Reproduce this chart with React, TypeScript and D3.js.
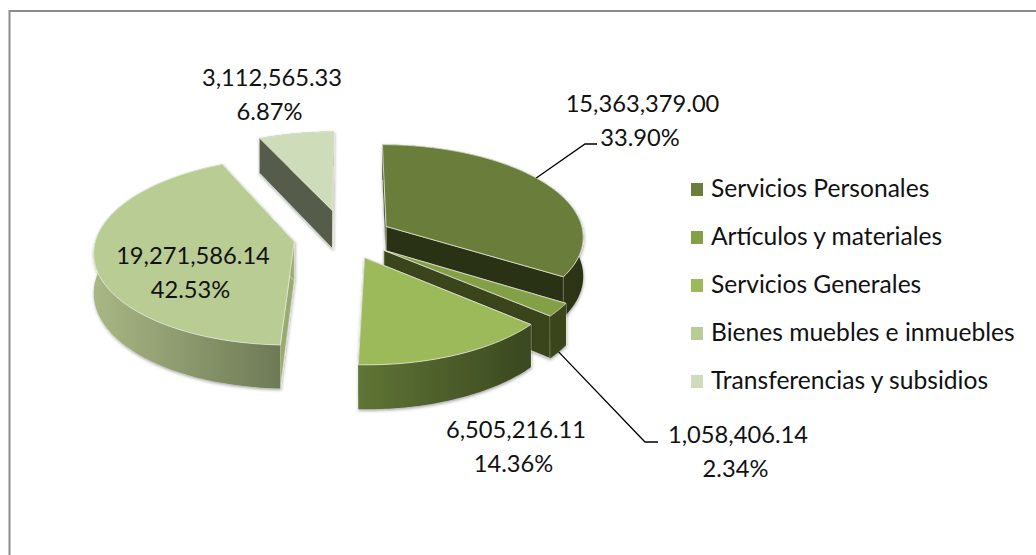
import React from 'react';
import * as d3 from 'd3';

const categories = ['Servicios Personales', 'Artículos y materiales', 'Servicios Generales', 'Bienes muebles e inmuebles', 'Transferencias y subsidios'];
const amounts = [15363379.0, 1058406.14, 6505216.11, 19271586.14, 3112565.33];
const percentLabels = ['33.90%', '2.34%', '14.36%', '42.53%', '6.87%'];
const topColors = ['#6a7d3a', '#84a046', '#9cba5a', '#b8cc94', '#cedcb9'];
const cutColors = ['#2c3316', '#3a451f', '#4a5a28', '#9aab72', '#545b48'];
const rimFrom = ['#3d4820', '#3a451f', '#5f7535', '#a9b785', '#545b48'];
const rimTo = ['#2c3316', '#3a451f', '#3b4820', '#6d7a55', '#545b48'];
const explode = [0.24, 0.24, 0.24, 0.26, 0.3];
const labelPos = [[642.5, 112], [738, 443], [516, 438], [193, 264], [272, 86]];

const font = 'Lato, "Open Sans", sans-serif';
const cx = 345, cy = 237, rx = 198, ry = 92, depth = 39, persp = 0.1;

// ground plane (unit circle) to screen, back of the pie gets smaller
const project = (u: number, v: number, drop = 0): [number, number] => {
  const s = 1 / (1 - persp * v);
  return [cx + rx * u * s, cy + ry * v * s + drop * s];
};

const line = d3.line();
const slices = d3.pie<number>().sort(null).startAngle(0).endAngle(2 * Math.PI)(amounts);
const drawOrder = [4, 3, 0, 1, 2];

function sliceShapes(i: number) {
  const d = slices[i];
  const mid = (d.startAngle + d.endAngle) / 2;
  const ex = explode[i] * Math.sin(mid);
  const ey = -explode[i] * Math.cos(mid);
  const rim = (a: number, drop = 0) => project(ex + Math.sin(a), ey - Math.cos(a), drop);
  const angles = d3.range(0, 61).map(k => d.startAngle + (d.endAngle - d.startAngle) * k / 60);
  const top = angles.map(a => rim(a));
  const bottom = angles.map(a => rim(a, depth)).reverse();
  const apex = project(ex, ey);
  const apexLow = project(ex, ey, depth);
  const cut = (a: number) => line([apex, rim(a), rim(a, depth), apexLow]) + 'Z';
  const xs = top.map(p => p[0]);
  return {
    top: line([apex, ...top]) + 'Z',
    wall: line([...top, ...bottom]) + 'Z',
    cutStart: cut(d.startAngle),
    cutEnd: cut(d.endAngle),
    x0: d3.min(xs)!,
    x1: d3.max(xs)!,
    rim,
  };
}

export default function App() {
  const shapes = amounts.map((_, i) => sliceShapes(i));
  const legendY = d3.scalePoint<number>().domain(d3.range(5)).range([190, 382]);
  const bevel = '#e6e9dc';
  const a1 = shapes[0].rim((slices[0].startAngle + slices[0].endAngle) / 2 - 0.1);
  const a2 = shapes[1].rim((slices[1].startAngle + slices[1].endAngle) / 2, depth);
  return (
    <svg width={1036} height={555} style={{ position: 'absolute', left: 0, top: 0, background: '#fff' }}>
      <defs>
        <filter id="soft" x="-10%" y="-10%" width="120%" height="120%">
          <feDropShadow dx="0.5" dy="1.5" stdDeviation="1.5" floodColor="#000" floodOpacity="0.35" />
        </filter>
        {shapes.map((s, i) => (
          <linearGradient key={i} id={`rim${i}`} gradientUnits="userSpaceOnUse" x1={s.x0} x2={s.x1} y1={0} y2={0}>
            <stop offset="0%" stopColor={rimFrom[i]} />
            <stop offset="100%" stopColor={rimTo[i]} />
          </linearGradient>
        ))}
      </defs>
      <path d="M9.5,555V11H1036" fill="none" stroke="#8c8c8c" strokeWidth={2} />
      {drawOrder.map(i => (
        <g key={i} filter="url(#soft)">
          <path d={shapes[i].cutStart} fill={cutColors[i]} stroke={bevel} strokeWidth={0.6} />
          <path d={shapes[i].cutEnd} fill={cutColors[i]} stroke={bevel} strokeWidth={0.6} />
          <path d={shapes[i].wall} fill={`url(#rim${i})`} />
          <path d={shapes[i].top} fill={topColors[i]} stroke={bevel} strokeWidth={0.8} />
        </g>
      ))}
      <path d={line([a1, [585, 144], [597, 144]])!} fill="none" stroke="#000" strokeWidth={1.3} />
      <path d={line([a2, [645, 442], [658, 442]])!} fill="none" stroke="#000" strokeWidth={1.3} />
      {amounts.map((v, i) => (
        <text key={i} x={labelPos[i][0]} y={labelPos[i][1]} textAnchor="middle" fontFamily={font} fontSize={23.7} fill="#111">
          <tspan x={labelPos[i][0]}>{d3.format(',.2f')(v)}</tspan>
          <tspan x={labelPos[i][0] - 2.5} dy={33.5}>{percentLabels[i]}</tspan>
        </text>
      ))}
      {categories.map((c, i) => (
        <g key={c}>
          <rect x={691} y={legendY(i)! - 7} width={12} height={13} fill={topColors[i]} />
          <text x={711} y={legendY(i)! + 7} fontFamily={font} fontSize={24.6} fill="#111">{c}</text>
        </g>
      ))}
    </svg>
  );
}
